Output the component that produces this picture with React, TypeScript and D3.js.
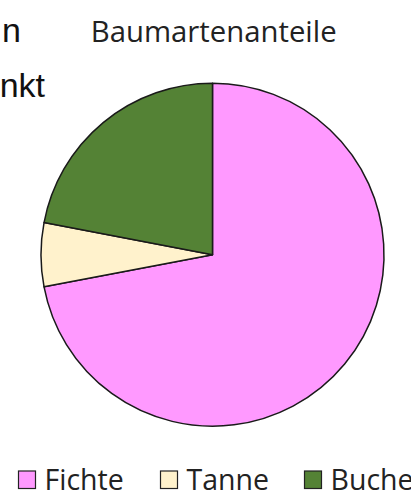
import React from "react";
import * as d3 from "d3";

const categories = ["Fichte", "Tanne", "Buche"];
const values = [72, 6, 22];
const colors = ["#FF99FF", "#FFF2CC", "#548235"];
const title = "Baumartenanteile";
const sideText = ["n", "nkt"];

const W = 411;
const H = 498;

export default function App() {
  const cx = 212.5;
  const cy = 254.7;
  const r = 171.5;
  const pie = d3.pie<number>().sort(null).value((d) => d);
  const arcs = pie(values);
  const arcGen = d3.arc<d3.PieArcDatum<number>>().innerRadius(0).outerRadius(r);
  const legendX = d3.scaleOrdinal<string, number>().domain(categories).range([18.5, 160.5, 304.5]);
  const font = "'Open Sans', Lato, sans-serif";
  return (
    <svg width={W} height={H} style={{ position: "absolute", left: 0, top: 0, background: "#fff" }}>
      <rect width={W} height={H} fill="#fff" />
      <text x={21} y={42} textAnchor="end" fontFamily="'Liberation Sans', Arial, sans-serif" fontSize={34} fill="#111">{sideText[0]}</text>
      <text x={45} y={97} textAnchor="end" fontFamily="'Liberation Sans', Arial, sans-serif" fontSize={34} fill="#111">{sideText[1]}</text>
      <text x={213.7} y={42} textAnchor="middle" fontFamily={font} fontSize={29.3} fill="#222">{title}</text>
      <g transform={`translate(${cx},${cy})`}>
        {arcs.map((a, i) => (
          <path key={i} d={arcGen(a) || ""} fill={colors[i]} stroke="#1a1a1a" strokeWidth={1.5} strokeLinejoin="round" />
        ))}
      </g>
      {categories.map((c, i) => (
        <g key={c} transform={`translate(${legendX(c)},${471})`}>
          <rect x={0} y={0} width={17} height={17.5} fill={colors[i]} stroke="#222" strokeWidth={1.2} />
          <text x={26} y={19} fontFamily={font} fontSize={28.5} fill="#222">{c}</text>
        </g>
      ))}
    </svg>
  );
}
